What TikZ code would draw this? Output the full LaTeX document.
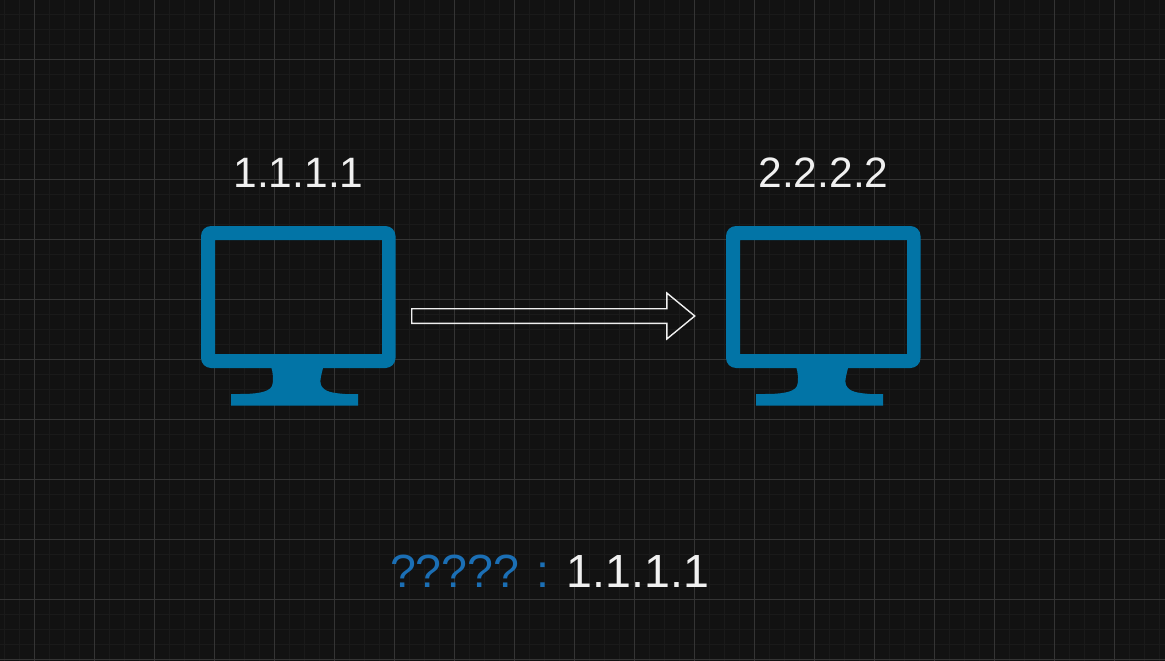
\documentclass[tikz,border=0pt]{standalone}
\usepackage{fontspec}
\setmainfont{Liberation Sans}
\usetikzlibrary{shapes.arrows}
\definecolor{canvas}{HTML}{121212}
\definecolor{gridmajor}{HTML}{343434}
\definecolor{gridminor}{HTML}{1A1A1A}
\definecolor{monitorblue}{HTML}{0274A6}
\definecolor{querytext}{HTML}{1B6FB5}
\definecolor{iptext}{HTML}{F0F0F0}
\tikzset{
    iplabel/.style={text=iptext,font=\fontsize{42.5}{50}\selectfont,inner sep=0pt},
    querylabel/.style={font=\fontsize{46.5}{56}\selectfont,inner sep=0pt},
    linkarrow/.style={single arrow,draw=iptext,line width=1.4pt,inner sep=6.6pt,minimum height=283pt,minimum width=45pt,single arrow head extend=15.7pt,single arrow tip angle=79,outer sep=0pt},
}

\begin{document}
\begin{tikzpicture}[x=1pt,y=-1pt]
    \useasboundingbox[fill=canvas] (0,0) rectangle (1165,661);
    % grid
    \foreach \x in {4.5,19.5,...,1165} {
        \draw[gridminor,line width=1pt] (\x,0) -- (\x,661);
    }
    \foreach \y in {14.5,29.5,...,661} {
        \draw[gridminor,line width=1pt] (0,\y) -- (1165,\y);
    }
    \foreach \x in {34.5,94.5,...,1165} {
        \draw[gridmajor,line width=1pt] (\x,0) -- (\x,661);
    }
    \foreach \y in {59.5,119.5,...,661} {
        \draw[gridmajor,line width=1pt] (0,\y) -- (1165,\y);
    }
    % monitors
    \foreach \host/\x/\addr in {hosta/298/1.1.1.1,hostb/823/2.2.2.2} {
        \fill[monitorblue,even odd rule,rounded corners=10pt] (\x-97,226) rectangle (\x+97.5,368)
            [sharp corners] (\x-83,240) rectangle (\x+84,354);
        \fill[monitorblue] (\x-27,366) -- (\x+25.5,366)
            .. controls (\x+24,373) and (\x+21,381) .. (\x+23,385)
            .. controls (\x+26,392) and (\x+35,393) .. (\x+47,394)
            -- (\x+60,394) -- (\x+60,405.7) -- (\x-67,405.7) -- (\x-67,394)
            -- (\x-58,394)
            .. controls (\x-45,394) and (\x-29,393) .. (\x-26,386)
            .. controls (\x-24,381) and (\x-25,373) .. (\x-27,366) -- cycle;
        \node[iplabel] (\host) at (\x+0.5,172.5) {\addr};
    }
    % arrow
    \node[linkarrow] (link) at (548.8,316) {};
    % bottom line
    \node[querylabel] (query) at (549.5,571) {\textcolor{querytext}{????? :} \textcolor{iptext}{1.1.1.1}};
\end{tikzpicture}
\end{document}
